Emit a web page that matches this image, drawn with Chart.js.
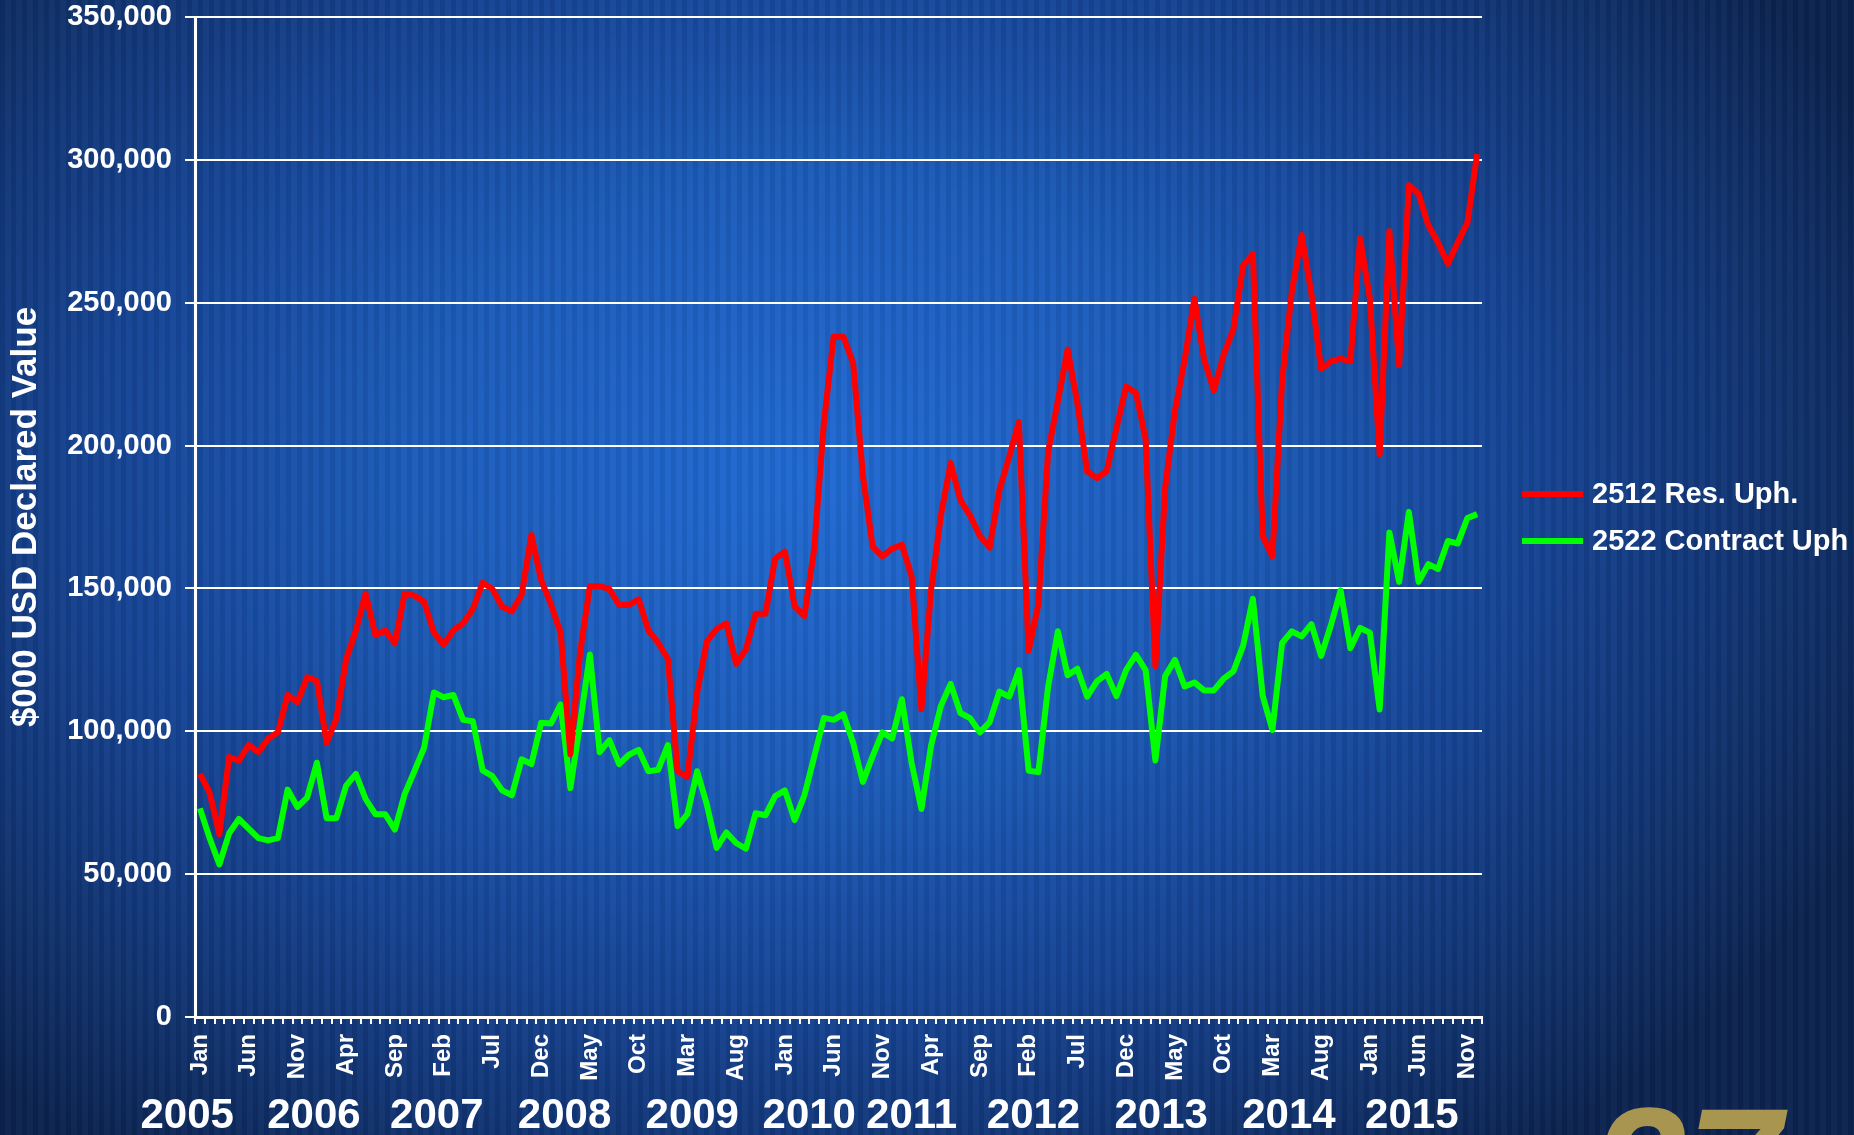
<!DOCTYPE html>
<html>
<head>
<meta charset="utf-8">
<title>2512 / 2522 Upholstery - Declared Value</title>
<script src="https://cdn.jsdelivr.net/npm/chart.js@4.4.1/dist/chart.umd.min.js"></script>
<style>
  html, body { margin: 0; padding: 0; overflow: hidden; }
  body {
    width: 1854px;
    height: 1135px;
    background:
      repeating-linear-gradient(90deg, rgba(0,0,0,0.05) 0px, rgba(0,0,0,0.05) 5px, rgba(255,255,255,0.025) 5px, rgba(255,255,255,0.025) 11px),
      radial-gradient(ellipse 62% 75% at 44% 42%, #2069d2 0%, #1b5bb9 35%, #164597 60%, #10316c 85%, #0c2350 100%);
  }
  #wrap { position: absolute; left: 0; top: 0; width: 1854px; height: 1135px; }
</style>
</head>
<body>
<div id="wrap"><canvas id="declaredChart" width="1854" height="1135"></canvas></div>
<script>
// monthly declared value, Jan 2005 - Dec 2015 ($000 USD)

const years = [2005, 2006, 2007, 2008, 2009, 2010, 2011, 2012, 2013, 2014, 2015];
const monthNames = ['Jan', 'Feb', 'Mar', 'Apr', 'May', 'Jun', 'Jul', 'Aug', 'Sep', 'Oct', 'Nov', 'Dec'];

const resUph = [
  85100, 78500, 64000, 91000, 89700, 95200, 92700, 97400, 99700, 112700, 110200, 118900,
  117700, 96000, 104400, 125300, 135300, 148200, 133600, 135300, 130800, 148200, 147500, 145300,
  134500, 130300, 135300, 137800, 142800, 152000, 149800, 143600, 142000, 147800, 168700, 152900,
  144500, 134500, 92000, 127800, 150800, 150800, 149800, 144200, 144200, 146200, 135300, 131000,
  125300, 86000, 84000, 113600, 131500, 135800, 137800, 123600, 128600, 141100, 141100, 160400,
  162900, 143700, 140300, 163700, 208000, 238100, 238100, 228900, 189600, 164600, 161200, 163900,
  165300, 154100, 107700, 149600, 175500, 193900, 180900, 175500, 168400, 164300, 184400, 196000,
  208200, 128200, 144300, 197800, 215700, 233600, 214800, 191000, 188600, 191000, 206000, 220700,
  218400, 202300, 122800, 185300, 212100, 230000, 251400, 230000, 219300, 231800, 240700, 263000,
  267100, 168400, 161200, 222800, 254100, 273700, 253200, 226800, 229500, 230400, 229500, 272500,
  251400, 197000, 275000, 228200, 291100, 288000, 277000, 271000, 263600, 271000, 278000, 302000
];

const contractUph = [
  73000, 62600, 53400, 64300, 69300, 65900, 62600, 61800, 62600, 79600, 73500, 76800,
  89000, 69600, 69600, 81000, 85100, 76300, 71000, 71000, 65600, 78000, 86000, 94300,
  113600, 111900, 112700, 104000, 103500, 86300, 84300, 79300, 77600, 90200, 88500, 103000,
  102700, 109400, 80100, 103000, 126900, 92700, 96900, 88500, 91800, 93500, 86000, 86500,
  95200, 66800, 71000, 86000, 74300, 59200, 64600, 60900, 58900, 71300, 70600, 77300,
  79300, 68900, 77600, 91000, 104700, 104000, 106000, 96000, 82300, 91300, 99600, 97500,
  111200, 88900, 72800, 95100, 108900, 116600, 106400, 104600, 99600, 103200, 113900, 112100,
  121400, 86200, 85700, 115700, 135000, 119600, 121900, 112100, 117500, 120100, 112300, 121400,
  126800, 121400, 89800, 119300, 125000, 115700, 117100, 114300, 114300, 118400, 121000, 130000,
  146400, 112500, 100500, 130900, 135000, 133200, 137500, 126400, 137100, 149300, 129100, 136200,
  134500, 107600, 169600, 152300, 176800, 152300, 158500, 156800, 166600, 165700, 174600, 176000
];

const yMax = 350000;
const yStep = 50000;
const monthLabelEvery = 5;

// year captions sit under the month labels, anchored to a (fractional) month index
const yearLabels = years.map(String);
const yearLabelMonth = [-1.3, 11.7, 24.3, 37.4, 50.5, 62.5, 73.0, 85.5, 98.6, 111.7, 124.3];

const categories = [];
years.forEach(y => monthNames.forEach(m => categories.push(m + ' ' + y)));

const FONT = '"Liberation Sans", Arial, sans-serif';
Chart.defaults.font.family = FONT;

const yearAxisLabels = {
  id: 'yearAxisLabels',
  afterDraw(chart) {
    const { ctx } = chart;
    const x = chart.scales.x;
    ctx.save();
    ctx.fillStyle = '#ffffff';
    ctx.font = 'bold 42px ' + FONT;
    ctx.textAlign = 'center';
    ctx.textBaseline = 'alphabetic';
    yearLabels.forEach((label, k) => {
      ctx.fillText(label, x.getPixelForValue(yearLabelMonth[k]), 1128);
    });
    ctx.restore();
  }
};

const sideLegend = {
  id: 'sideLegend',
  afterDraw(chart) {
    const { ctx, chartArea } = chart;
    const left = chartArea.right + 40;
    ctx.save();
    ctx.font = 'bold 29px ' + FONT;
    ctx.textBaseline = 'middle';
    ctx.textAlign = 'left';
    chart.data.datasets.forEach((ds, i) => {
      const y = 494 + i * 47;
      ctx.strokeStyle = ds.borderColor;
      ctx.lineWidth = 6;
      ctx.beginPath();
      ctx.moveTo(left, y);
      ctx.lineTo(left + 61, y);
      ctx.stroke();
      ctx.fillStyle = '#ffffff';
      ctx.fillText(ds.label, left + 70, y + 1);
    });
    ctx.restore();
  }
};

const cornerLogo = {
  id: 'cornerLogo',
  afterDraw(chart) {
    const { ctx } = chart;
    ctx.save();
    ctx.fillStyle = '#a89650';
    ctx.font = 'italic bold 170px ' + FONT;
    ctx.textBaseline = 'alphabetic';
    ctx.fillText('27', 1592, 1227);
    ctx.restore();
  }
};

new Chart(document.getElementById('declaredChart'), {
  type: 'line',
  data: {
    labels: categories,
    datasets: [
      {
        label: '2512 Res. Uph.',
        data: resUph,
        borderColor: '#ff0000',
        backgroundColor: '#ff0000',
        borderWidth: 6,
        pointRadius: 0,
        tension: 0,
        borderJoinStyle: 'round'
      },
      {
        label: '2522 Contract Uph',
        data: contractUph,
        borderColor: '#00ff00',
        backgroundColor: '#00ff00',
        borderWidth: 6,
        pointRadius: 0,
        tension: 0,
        borderJoinStyle: 'round'
      }
    ]
  },
  options: {
    responsive: false,
    animation: false,
    layout: { padding: { top: 17, right: 372, left: 0, bottom: 0 } },
    plugins: {
      legend: { display: false },
      tooltip: { enabled: false }
    },
    scales: {
      x: {
        offset: true,
        grid: { offset: true, drawOnChartArea: false, drawTicks: true, tickLength: 7, color: '#ffffff', lineWidth: 2 },
        border: { display: true, color: '#ffffff', width: 3 },
        ticks: {
          autoSkip: false,
          minRotation: 90,
          maxRotation: 90,
          padding: 10,
          color: '#ffffff',
          font: { size: 24, weight: 'bold' },
          callback: (v, i) => (i % monthLabelEvery === 0 ? monthNames[i % 12] : '')
        },
        afterFit: s => { s.height = 118; s.paddingLeft = 0; s.paddingRight = 0; }
      },
      y: {
        min: 0,
        max: yMax,
        ticks: {
          stepSize: yStep,
          color: '#ffffff',
          padding: 13,
          font: { size: 29, weight: 'bold' },
          callback: v => v.toLocaleString('en-US')
        },
        grid: { color: '#ffffff', lineWidth: 2, tickLength: 10 },
        border: { color: '#ffffff', width: 3 },
        title: {
          display: true,
          text: '$000 USD Declared Value',
          color: '#ffffff',
          font: { size: 35, weight: 'bold' },
          padding: { top: 5, bottom: 0 }
        },
        afterFit: s => { s.width = 195; s.paddingTop = 0; s.paddingBottom = 0; }
      }
    }
  },
  plugins: [yearAxisLabels, sideLegend, cornerLogo]
});
</script>
</body>
</html>
